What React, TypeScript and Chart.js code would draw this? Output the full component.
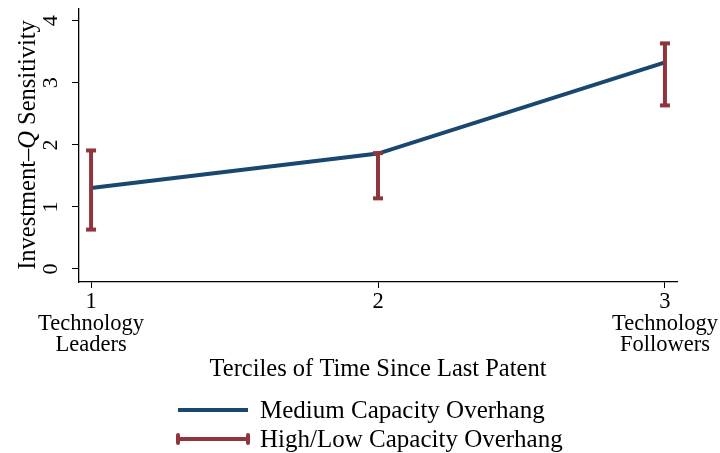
import React, { useEffect, useRef } from "react";
import { Chart, registerables } from "chart.js";

Chart.register(...registerables);

// ---- data ----
const terciles = [1, 2, 3];
const tickLabels: Record<number, string[]> = {
  1: ["1", "Technology", "Leaders"],
  2: ["2"],
  3: ["3", "Technology", "Followers"],
};
const mediumSensitivity = [1.305, 1.86, 3.33];
const highLowLower = [0.635, 1.138, 2.636];
const highLowUpper = [1.91, 1.867, 3.636];
const yTicks = [0, 1, 2, 3, 4];
const xTitle = "Terciles of Time Since Last Patent";
const yTitleParts = ["Investment\u2013", "Q", " Sensitivity"];
const legendLabels = ["Medium Capacity Overhang", "High/Low Capacity Overhang"];

const NAVY = "#1a476f";
const MAROON = "#90353b";
const FONT = "'Liberation Serif', 'Times New Roman', serif";

const overlayPlugin = {
  id: "overlay",
  afterDraw(chart: any) {
    const ctx = chart.ctx;
    ctx.save();
    // y axis title with italic Q
    ctx.translate(29, 145);
    ctx.rotate(-Math.PI / 2);
    const fonts = [`24.5px ${FONT}`, `italic 24.5px ${FONT}`, `24.5px ${FONT}`];
    let total = 0;
    const widths = yTitleParts.map((p, i) => {
      ctx.font = fonts[i];
      const w = ctx.measureText(p).width;
      total += w;
      return w;
    });
    let x = -total / 2;
    ctx.fillStyle = "#000";
    ctx.textBaseline = "middle";
    ctx.textAlign = "left";
    yTitleParts.forEach((p, i) => {
      ctx.font = fonts[i];
      ctx.fillText(p, x, 0);
      x += widths[i];
    });
    ctx.restore();

    // legend
    ctx.save();
    ctx.lineWidth = 4;
    ctx.lineCap = "butt";
    ctx.strokeStyle = NAVY;
    ctx.beginPath();
    ctx.moveTo(178, 410);
    ctx.lineTo(248, 410);
    ctx.stroke();
    ctx.strokeStyle = MAROON;
    ctx.beginPath();
    ctx.moveTo(178, 439);
    ctx.lineTo(248, 439);
    ctx.stroke();
    ctx.lineCap = "round";
    [178, 248].forEach((cx) => {
      ctx.beginPath();
      ctx.moveTo(cx, 435);
      ctx.lineTo(cx, 443);
      ctx.stroke();
    });
    ctx.fillStyle = "#000";
    ctx.font = `25px ${FONT}`;
    ctx.textBaseline = "middle";
    ctx.textAlign = "left";
    ctx.fillText(legendLabels[0], 260, 411);
    ctx.fillText(legendLabels[1], 260, 440);
    ctx.restore();
  },
};

export default function App() {
  const ref = useRef<HTMLCanvasElement>(null);
  useEffect(() => {
    if (!ref.current) return;
    const errDatasets = terciles.map((t, i) => ({
      label: "err" + t,
      data: [
        { x: t, y: highLowLower[i] },
        { x: t, y: highLowUpper[i] },
      ],
      borderColor: MAROON,
      borderWidth: 4,
      pointStyle: "line" as const,
      pointRadius: 5,
      pointBorderWidth: 4,
      pointBorderColor: MAROON,
      pointBackgroundColor: MAROON,
      borderCapStyle: "butt" as const,
      showLine: true,
      order: 0,
    }));
    const chart = new Chart(ref.current, {
      type: "scatter",
      data: {
        datasets: [
          ...errDatasets,
          {
            label: legendLabels[0],
            data: terciles.map((t, i) => ({ x: t, y: mediumSensitivity[i] })),
            borderColor: NAVY,
            borderWidth: 4,
            pointRadius: 0,
            showLine: true,
            order: 1,
          },
        ],
      },
      options: {
        animation: false,
        responsive: false,
        events: [],
        layout: { padding: { left: 0, right: 43, top: 8, bottom: 69 } },
        plugins: { legend: { display: false }, tooltip: { enabled: false } },
        scales: {
          x: {
            type: "linear",
            min: 0.958,
            max: 3.042,
            afterBuildTicks: (s: any) => {
              s.ticks = terciles.map((v) => ({ value: v }));
            },
            afterFit: (s: any) => {
              s.height = 102;
              s.paddingLeft = 0;
              s.paddingRight = 0;
            },
            grid: {
              drawOnChartArea: false,
              drawTicks: true,
              tickLength: 6,
              color: "#000",
              tickColor: "#000",
            },
            border: { color: "#000", width: 1.3 },
            ticks: {
              color: "#000",
              font: { family: FONT, size: 22.5, lineHeight: 0.94 },
              padding: 4,
              maxRotation: 0,
              minRotation: 0,
              callback: (v: any) => tickLabels[v as number] || "",
            },
            title: {
              display: true,
              text: xTitle,
              color: "#000",
              font: { family: FONT, size: 24.5 },
              padding: { top: 2, bottom: 0 },
            },
          },
          y: {
            type: "linear",
            min: -0.21,
            max: 4.19,
            afterBuildTicks: (s: any) => {
              s.ticks = yTicks.map((v) => ({ value: v }));
            },
            afterFit: (s: any) => {
              s.width = 79;
              s.paddingTop = 0;
              s.paddingBottom = 0;
            },
            grid: {
              drawOnChartArea: false,
              drawTicks: true,
              tickLength: 7,
              color: "#000",
              tickColor: "#000",
            },
            border: { color: "#000", width: 1.3 },
            ticks: {
              color: "#000",
              font: { family: FONT, size: 22 },
              minRotation: 90,
              maxRotation: 90,
              crossAlign: "center",
              padding: 15,
              callback: (v: any) => String(v),
            },
          },
        },
      },
      plugins: [overlayPlugin],
    } as any);
    return () => chart.destroy();
  }, []);
  return (
    <div style={{ position: "fixed", left: 0, top: 0, width: 720, height: 453, background: "#fff" }}>
      <canvas ref={ref} width={720} height={453} style={{ display: "block", width: 720, height: 453 }} />
    </div>
  );
}
